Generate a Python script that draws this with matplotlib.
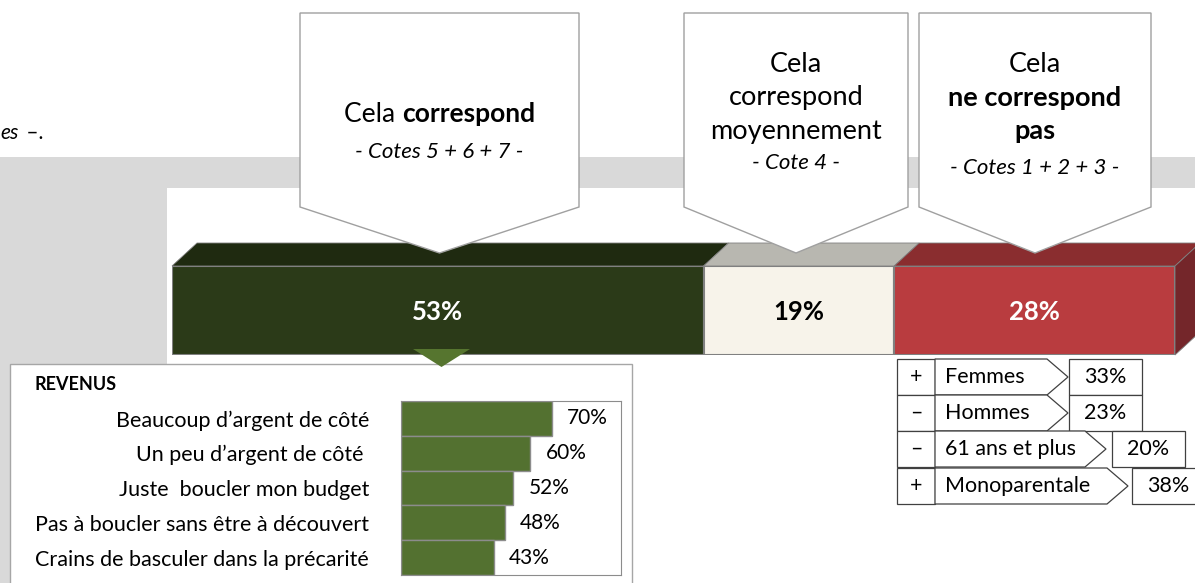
import matplotlib.pyplot as plt
from matplotlib.patches import Polygon, Rectangle

plt.rcParams['font.family'] = ['Lato', 'DejaVu Sans']

W, H = 1195, 583

# main stacked bar
shares = [53, 19, 28]
seg_colors = ['#2b3a18', '#f7f3ea', '#b93c3f']
top_colors = ['#1f2a10', '#b8b7b0', '#8a2d2f']
side_color = '#74262a'
val_colors = ['white', 'black', 'white']

# revenus detail
rev_labels = ['Beaucoup d\u2019argent de côté', 'Un peu d\u2019argent de côté ',
              'Juste  boucler mon budget', 'Pas à boucler sans être à découvert',
              'Crains de basculer dans la précarité']
rev_values = [70, 60, 52, 48, 43]

# profile table (ne correspond pas)
grp_signs = ['+', '\u2013', '\u2013', '+']
grp_labels = ['Femmes', 'Hommes', '61 ans et plus', 'Monoparentale']
grp_values = [33, 23, 20, 38]

fig = plt.figure(figsize=(W / 100, H / 100), dpi=100)
renderer = fig.canvas.get_renderer()


def px_axes(x0, y0, x1, y1, z):
    a = fig.add_axes([x0 / W, 1 - y1 / H, (x1 - x0) / W, (y1 - y0) / H], zorder=z)
    return a


def pix(a):
    a.set_xlim(0, W)
    a.set_ylim(H, 0)
    a.axis('off')
    a.patch.set_alpha(0)


# background
bg = px_axes(0, 0, W, H, 0)
pix(bg)
bg.add_patch(Rectangle((0, 157), W, H - 157, color='#d9d9d9', lw=0))
bg.add_patch(Rectangle((167, 188), W - 167, H - 188, color='white', lw=0))
bg.text(0, 133, 'es', fontsize=15, style='italic', va='center')
bg.text(21, 133, ' \u2013.', fontsize=15, va='center')

# revenus panel
bg.add_patch(Rectangle((10, 364), 622, 240, fc='white', ec='#a6a6a6', lw=1))
bg.text(35, 384, 'REVENUS', fontsize=13, fontweight='bold', va='center')

# table
row_top = [359, 395, 431, 468]
body_end = [1047, 1047, 1085, 1107]
box_x = [1069, 1069, 1112, 1132]
rh = 36
for i in range(len(grp_labels)):
    y0 = row_top[i]
    y1 = y0 + rh
    bg.add_patch(Rectangle((897, y0), 38, rh, fc='white', ec='#404040', lw=0.9))
    bg.add_patch(Polygon([(935, y0), (body_end[i], y0), (body_end[i] + 21, y0 + rh / 2),
                          (body_end[i], y1), (935, y1)], closed=True,
                         fc='white', ec='#404040', lw=0.9))
    bg.add_patch(Rectangle((box_x[i], y0), 73, rh, fc='white', ec='#404040', lw=0.9))
    bg.text(916, y0 + rh / 2, grp_signs[i], fontsize=15.5, ha='center', va='center')
    bg.text(945, y0 + rh / 2, grp_labels[i], fontsize=15.5, ha='left', va='center')
    bg.text(box_x[i] + 36.5, y0 + rh / 2, f'{grp_values[i]}%', fontsize=15.5,
            ha='center', va='center')

# 3D stacked bar
ax = px_axes(172, 266, 1175, 355, 1)
ax.set_xlim(0, 100)
ax.set_ylim(0, 1)
ax.axis('off')
dx = 25 / 1003 * 100
dy = 23 / 89
ax.add_patch(Rectangle((0.3, -0.05), 100, 1, fc='#9a9a9a', lw=0, alpha=0.7, zorder=0))
left = 0
for v, c, tc, lc in zip(shares, seg_colors, top_colors, val_colors):
    ax.barh(0.5, v, left=left, height=1, color=c, edgecolor='#808080', lw=1.5, zorder=2)
    ax.add_patch(Polygon([(left, 1), (left + v, 1), (left + v + dx, 1 + dy), (left + dx, 1 + dy)],
                         closed=True, fc=tc, ec='#808080', lw=0.6, clip_on=False, zorder=1))
    ax.text(left + v / 2, 0.48, f'{v}%', color=lc, fontsize=18.5, fontweight='bold',
            ha='center', va='center')
    left += v
ax.add_patch(Polygon([(left, 0), (left, 1), (left + dx, 1 + dy), (left + dx, dy)],
                     closed=True, fc=side_color, ec='#808080', lw=0.6, clip_on=False, zorder=1))

# callouts
ov = px_axes(0, 0, W, H, 2)
pix(ov)
callouts = [(300, 579), (684, 908), (919, 1151)]
for x0, x1 in callouts:
    xc = (x0 + x1) / 2
    ov.add_patch(Polygon([(x0, 13), (x1, 13), (x1, 207), (xc, 253), (x0, 207)], closed=True,
                         fc='white', ec='#a0a0a0', lw=1))


def mixed(a, xc, y, parts, size):
    ws = []
    for s, w in parts:
        t = a.text(0, 0, s, fontsize=size, fontweight=w)
        ws.append(t.get_window_extent(renderer).width)
        t.remove()
    x = xc - sum(ws) / 2
    for (s, w), wd in zip(parts, ws):
        a.text(x, y, s, fontsize=size, fontweight=w, ha='left', va='center')
        x += wd


big = 19.5
small = 16
mixed(ov, 439.5, 114, [('Cela ', 'normal'), ('correspond', 'bold')], 19)
ov.text(439.5, 152, '- Cotes 5 + 6 + 7 -', fontsize=small, style='italic', ha='center', va='center')
ov.text(796, 64, 'Cela', fontsize=big, ha='center', va='center')
ov.text(796, 98, 'correspond', fontsize=big, ha='center', va='center')
ov.text(796, 131, 'moyennement', fontsize=big, ha='center', va='center')
ov.text(796, 163, '- Cote 4 -', fontsize=small, style='italic', ha='center', va='center')
ov.text(1035, 64, 'Cela', fontsize=big, ha='center', va='center')
ov.text(1035, 98, 'ne correspond', fontsize=big, fontweight='bold', ha='center', va='center')
ov.text(1035, 131, 'pas', fontsize=big, fontweight='bold', ha='center', va='center')
ov.text(1035, 168, '- Cotes 1 + 2 + 3 -', fontsize=small, style='italic', ha='center', va='center')

# pointer under the green segment
ov.add_patch(Polygon([(413, 349), (470, 349), (441.5, 367)], closed=True, fc='#56752f', lw=0))

# revenus bars
rx = px_axes(401, 401, 621, 575, 3)
rx.barh(range(len(rev_values)), rev_values, height=1, color='#537130', edgecolor='#8c8c8c', lw=1)
rx.set_xlim(0, 102)
rx.set_ylim(len(rev_values) - 0.5, -0.5)
rx.set_xticks([])
rx.set_yticks(range(len(rev_labels)), rev_labels, fontsize=15.5)
rx.tick_params(axis='y', length=0, pad=23)
for s in rx.spines.values():
    s.set_color('#8c8c8c')
for i, v in enumerate(rev_values):
    rx.annotate(f'{v}%', (v, i), xytext=(11, 0), textcoords='offset points',
                ha='left', va='center', fontsize=15)

fig.savefig('out.png', dpi=100)
